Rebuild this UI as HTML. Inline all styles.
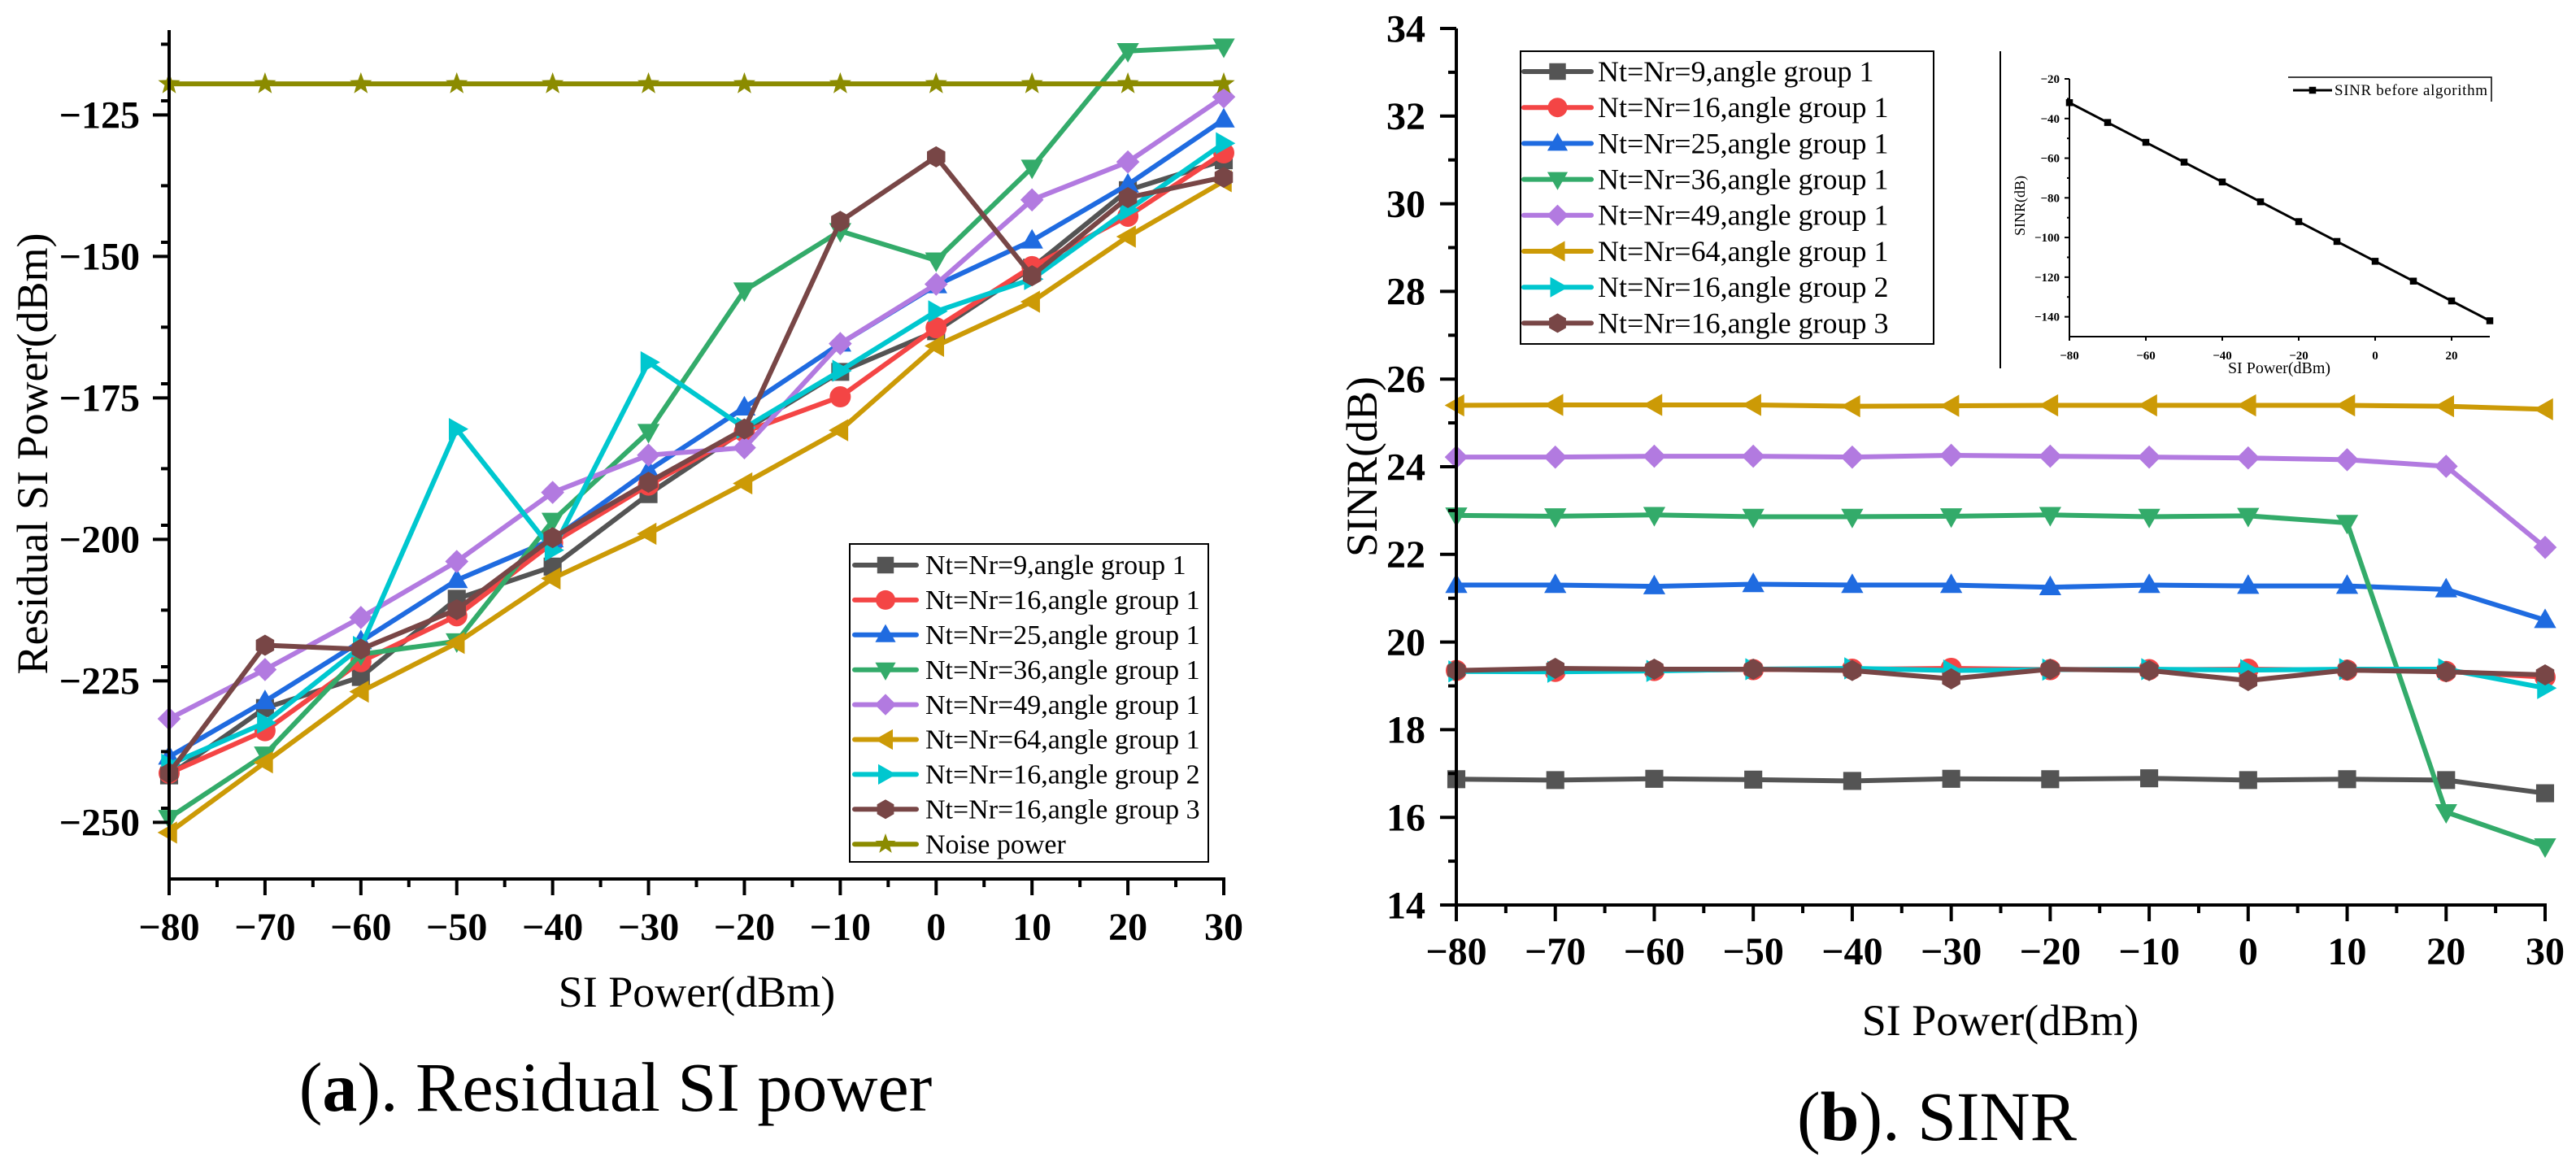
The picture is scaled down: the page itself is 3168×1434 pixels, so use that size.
<!DOCTYPE html>
<html><head><meta charset="utf-8">
<style>
html,body{margin:0;padding:0;background:#fff;}
svg{display:block;font-family:'Liberation Serif',serif;}
svg text, svg tspan{font-family:'Liberation Serif',serif;}
</style></head>
<body>
<svg id="fig" width="3168" height="1434" viewBox="0 0 3168 1434" xmlns="http://www.w3.org/2000/svg" style="font-family:'Liberation Serif',serif">
<rect x="0" y="0" width="3168" height="1434" fill="#fff"/>
<g id="chartA" style="font-family:'Liberation Serif',serif"></g>
<g id="chartB" style="font-family:'Liberation Serif',serif"></g>
<g id="inset" style="font-family:'Liberation Serif',serif"></g>
<text x="757" y="1366" font-size="86" text-anchor="middle">(<tspan font-weight="bold">a</tspan>). Residual SI power</text>
<text x="2382" y="1402" font-size="86" text-anchor="middle">(<tspan font-weight="bold">b</tspan>). SINR</text>
</svg>
<script>
const xCats = [-80,-70,-60,-50,-40,-30,-20,-10,0,10,20,30];
const seriesNames = ["Nt=Nr=9,angle group 1","Nt=Nr=16,angle group 1","Nt=Nr=25,angle group 1","Nt=Nr=36,angle group 1","Nt=Nr=49,angle group 1","Nt=Nr=64,angle group 1","Nt=Nr=16,angle group 2","Nt=Nr=16,angle group 3"];
const residual9  = [-241.7,-229.8,-224.3,-210.5,-204.8,-192,-180.7,-170.4,-163.2,-152,-138.3,-133];
const residual16 = [-241.3,-233.8,-221.6,-213.5,-200.6,-190.4,-181,-174.8,-162.6,-151.8,-142.9,-131.7];
const residual25 = [-238.4,-228.6,-218,-207.2,-200,-187.8,-176.7,-165.4,-155.1,-147.2,-137.3,-125.8];
const residual36 = [-249.2,-238,-220.3,-218,-196.7,-181,-156,-145.5,-150.7,-134.3,-113.7,-112.9];
const residual49 = [-231.7,-223,-213.8,-203.9,-191.7,-185.1,-183.8,-165.4,-154.9,-140,-133.3,-121.8];
const residual64 = [-251.8,-239.4,-226.9,-218.3,-206.9,-199,-190.1,-180.7,-165.8,-158,-146.5,-136.7];
const residual16g2 = [-239.8,-232.4,-219,-180.5,-201.9,-168.7,-180.3,-170.2,-159.7,-154,-141.8,-130];
const residual16g3 = [-241.3,-218.7,-219.4,-212.4,-199.7,-189.9,-180.5,-143.8,-132.4,-153.4,-139.6,-136];
const noisePower = [-119.5,-119.5,-119.5,-119.5,-119.5,-119.5,-119.5,-119.5,-119.5,-119.5,-119.5,-119.5];
const sinr9  = [16.87,16.85,16.88,16.86,16.83,16.88,16.87,16.89,16.85,16.87,16.85,16.55];
const sinr16 = [19.35,19.33,19.35,19.37,19.38,19.4,19.37,19.37,19.38,19.36,19.33,19.2];
const sinr25 = [21.3,21.3,21.27,21.32,21.3,21.3,21.25,21.3,21.28,21.28,21.2,20.5];
const sinr36 = [22.89,22.87,22.9,22.86,22.86,22.87,22.9,22.86,22.88,22.72,16.12,15.34];
const sinr49 = [24.22,24.22,24.24,24.24,24.22,24.26,24.24,24.22,24.2,24.16,24.01,22.16];
const sinr64 = [25.4,25.41,25.41,25.41,25.38,25.39,25.4,25.4,25.4,25.4,25.38,25.31];
const sinr16g2 = [19.33,19.32,19.34,19.38,19.4,19.35,19.37,19.38,19.36,19.38,19.38,18.95];
const sinr16g3 = [19.35,19.4,19.38,19.38,19.35,19.16,19.38,19.35,19.12,19.36,19.32,19.25];
const sinrBefore = [-32,-42,-52,-62,-72,-82,-92,-102,-112,-122,-132,-142];
const yTicksA = [-250,-225,-200,-175,-150,-125];
const yTicksB = [14,16,18,20,22,24,26,28,30,32,34];
const yTicksInset = [-140,-120,-100,-80,-60,-40,-20];
const xTicksInset = [-80,-60,-40,-20,0,20];

const NS="http://www.w3.org/2000/svg";
const colors=["#545454","#f44545","#1f6be0","#33ab6a","#b27ae0","#cc9a06","#00c7cf","#784646"];
const shapes=["square","circle","up","down","diamond","left","right","hex"];
function mk(tag,attrs,parent){const e=document.createElementNS(NS,tag);for(const k in attrs)e.setAttribute(k,attrs[k]);if(tag==="text"){e.style.fontFamily="'Liberation Serif', serif";}parent.appendChild(e);return e;}
function fmt(v){return v<0?"\u2212"+Math.abs(v):String(v);}
function markerD(s,cx,cy,r){
  if(s==="square")return `M${cx-r*0.85},${cy-r*0.85}h${1.7*r}v${1.7*r}h${-1.7*r}Z`;
  if(s==="up")return `M${cx},${cy-r*1.1}L${cx+r*1.05},${cy+r*0.75}L${cx-r*1.05},${cy+r*0.75}Z`;
  if(s==="down")return `M${cx},${cy+r*1.1}L${cx+r*1.05},${cy-r*0.75}L${cx-r*1.05},${cy-r*0.75}Z`;
  if(s==="left")return `M${cx-r*1.1},${cy}L${cx+r*0.75},${cy-r*1.05}L${cx+r*0.75},${cy+r*1.05}Z`;
  if(s==="right")return `M${cx+r*1.1},${cy}L${cx-r*0.75},${cy-r*1.05}L${cx-r*0.75},${cy+r*1.05}Z`;
  if(s==="diamond")return `M${cx},${cy-r*1.1}L${cx+r*1.1},${cy}L${cx},${cy+r*1.1}L${cx-r*1.1},${cy}Z`;
  if(s==="hex"){let d="";for(let i=0;i<6;i++){const a=Math.PI/6+i*Math.PI/3;d+=(i?"L":"M")+(cx+r*Math.cos(a))+","+(cy+r*Math.sin(a));}return d+"Z";}
  if(s==="star"){let d="";for(let i=0;i<10;i++){const a=-Math.PI/2+i*Math.PI/5;const rr=i%2?r*0.45:r*1.1;d+=(i?"L":"M")+(cx+rr*Math.cos(a))+","+(cy+rr*Math.sin(a));}return d+"Z";}
  return "";
}
function marker(s,cx,cy,r,col,parent){
  let e;
  if(s==="circle"){e=mk("circle",{cx:cx,cy:cy,r:r,fill:col},parent);}
  else e=mk("path",{d:markerD(s,cx,cy,r),fill:col},parent);
  
  
  return e;
}

function drawChart(g,opt){
  const sx=v=>opt.x0+(v-opt.xmin)/(opt.xmax-opt.xmin)*(opt.x1-opt.x0);
  const sy=v=>opt.yB+(v-opt.ymin)/(opt.ymax-opt.ymin)*(opt.yT-opt.yB);
  opt.series.forEach((s,i)=>{
    const sg=mk("g",{},g);
    
    
    const pts=s.data.map((v,j)=>sx(xCats[j])+","+sy(v)).join(" ");
    const pl=mk("polyline",{points:pts,fill:"none",stroke:s.color,"stroke-width":opt.lw,"stroke-linejoin":"round"},sg);
    
    
    s.data.forEach((v,j)=>marker(s.shape,sx(xCats[j]),sy(v),opt.mr,s.color,sg));
  });
  const ax=mk("g",{stroke:"#000","stroke-width":4},g);
  
  
  mk("line",{x1:opt.x0,y1:opt.yT,x2:opt.x0,y2:opt.yB+2},ax);
  mk("line",{x1:opt.x0-2,y1:opt.yB,x2:opt.x1+2,y2:opt.yB},ax);
  for(let v=opt.xmin;v<=opt.xmax;v+=5){
    const major=(v%10===0);
    mk("line",{x1:sx(v),y1:opt.yB,x2:sx(v),y2:opt.yB+(major?opt.tl:opt.tl/2)},ax);
    if(major){
      const t=mk("text",{x:sx(v),y:opt.yB+opt.xlab,"font-size":opt.fs,"font-weight":"bold","text-anchor":"middle",stroke:"none",fill:"#000"},g);
      t.textContent=fmt(v);
      
      
    }
  }
  opt.yticks.forEach((v,k)=>{
    mk("line",{x1:opt.x0,y1:sy(v),x2:opt.x0-opt.tl,y2:sy(v)},ax);
    const t=mk("text",{x:opt.x0-opt.ylab,y:sy(v)+opt.fs*0.34,"font-size":opt.fs,"font-weight":"bold","text-anchor":"end",fill:"#000"},g);
    t.textContent=fmt(v);
    
    
  });
  for(let v=opt.ymin+opt.minor;v<opt.ymax;v+=opt.minor*2){
    if(sy(v)>=opt.yT-1) mk("line",{x1:opt.x0,y1:sy(v),x2:opt.x0-opt.tl/2,y2:sy(v)},ax);
  }
  if(opt.extraMinor) opt.extraMinor.forEach(v=>mk("line",{x1:opt.x0,y1:sy(v),x2:opt.x0-opt.tl/2,y2:sy(v)},ax));
}

function legend(g,o){
  const lg=mk("g",{},g);
  
  
  mk("rect",{x:o.x,y:o.y,width:o.w,height:o.h,fill:"#fff",stroke:"#000","stroke-width":2},lg);
  o.items.forEach((it,i)=>{
    const cy=o.y0+i*o.dy;
    const eg=mk("g",{},lg);
    
    
    mk("line",{x1:o.lx0,y1:cy,x2:o.lx1,y2:cy,stroke:it.color,"stroke-width":6,"stroke-linecap":"round"},eg);
    marker(it.shape,(o.lx0+o.lx1)/2,cy,12,it.color,eg);
    const t=mk("text",{x:o.tx,y:cy+o.fs*0.33,"font-size":o.fs,fill:"#000"},eg);
    t.textContent=it.name;
  });
}

const gA=document.getElementById("chartA");
const sA=[residual9,residual16,residual25,residual36,residual49,residual64,residual16g2,residual16g3].map((d,i)=>({key:"a"+i,data:d,color:colors[i],shape:shapes[i]}));
sA.push({key:"noise",data:noisePower,color:"#8b8b00",shape:"star"});
drawChart(gA,{x0:208,x1:1505,yT:37,yB:1081,xmin:-80,xmax:30,ymin:-260,ymax:-110,series:sA,lw:6,mr:13,fs:48,tl:20,xlab:75,ylab:36,yticks:yTicksA,minor:12.5,extraMinor:[-237.5,-212.5,-187.5,-162.5,-137.5,-112.5]});
(function(){const t=mk("text",{x:0,y:0,"font-size":54,"text-anchor":"middle",transform:"translate(58,558) rotate(-90)"},gA);t.textContent="Residual SI Power(dBm)";
const x=mk("text",{x:857,y:1238,"font-size":54,"text-anchor":"middle"},gA);x.textContent="SI Power(dBm)";})();
legend(gA,{x:1045,y:669,w:441,h:391,y0:695,dy:42.9,lx0:1051,lx1:1127,tx:1138,fs:34,items:sA.map((s,i)=>({name:i<8?seriesNames[i]:"Noise power",color:s.color,shape:s.shape}))});

const gB=document.getElementById("chartB");
const sB=[sinr9,sinr16,sinr25,sinr36,sinr49,sinr64,sinr16g2,sinr16g3].map((d,i)=>({key:"b"+i,data:d,color:colors[i],shape:shapes[i]}));
drawChart(gB,{x0:1791,x1:3130,yT:35,yB:1113,xmin:-80,xmax:30,ymin:14,ymax:34,series:sB,lw:6,mr:13,fs:48,tl:20,xlab:73,ylab:38,yticks:yTicksB,minor:1});
(function(){const t=mk("text",{x:0,y:0,"font-size":54,"text-anchor":"middle",transform:"translate(1693,574) rotate(-90)"},gB);t.textContent="SINR(dB)";
const x=mk("text",{x:2460,y:1273,"font-size":54,"text-anchor":"middle"},gB);x.textContent="SI Power(dBm)";})();
legend(gB,{x:1870,y:63,w:508,h:360,y0:88,dy:44.2,lx0:1874,lx1:1957,tx:1965,fs:36,items:sB.map((s,i)=>({name:seriesNames[i],color:s.color,shape:s.shape}))});

const gI=document.getElementById("inset");
(function(){
  const x0=2545,x1=3062,yT=97,yB=414,ymin=-150,ymax=-20;
  const sx=v=>x0+(v+80)/110*(x1-x0);
  const sy=v=>yB+(v-ymin)/(ymax-ymin)*(yT-yB);
  const vl=mk("line",{x1:2460,y1:63,x2:2460,y2:453,stroke:"#000","stroke-width":2},gI);
  
  
  const pl=mk("polyline",{points:sinrBefore.map((v,j)=>sx(xCats[j])+","+sy(v)).join(" "),fill:"none",stroke:"#000","stroke-width":3},gI);
  
  
  sinrBefore.forEach((v,j)=>marker("square",sx(xCats[j]),sy(v),5,"#000",gI));
  const ax=mk("g",{stroke:"#000","stroke-width":2},gI);
  mk("line",{x1:x0,y1:yT,x2:x0,y2:yB},ax);
  mk("line",{x1:x0,y1:yB,x2:x1,y2:yB},ax);
  yTicksInset.forEach(v=>{mk("line",{x1:x0,y1:sy(v),x2:x0-6,y2:sy(v)},ax);
    const t=mk("text",{x:x0-12,y:sy(v)+5,"font-size":15,"font-weight":"bold","text-anchor":"end"},gI);t.textContent=fmt(v);
    });
  for(let v=-130;v<=-30;v+=20) mk("line",{x1:x0,y1:sy(v),x2:x0-3,y2:sy(v)},ax);
  xTicksInset.forEach(v=>{mk("line",{x1:sx(v),y1:yB,x2:sx(v),y2:yB+5},ax);
    const t=mk("text",{x:sx(v),y:yB+28,"font-size":15,"font-weight":"bold","text-anchor":"middle"},gI);t.textContent=fmt(v);
    });
  const yt=mk("text",{x:0,y:0,"font-size":18,"text-anchor":"middle",transform:"translate(2490,253) rotate(-90)"},gI);yt.textContent="SINR(dB)";
  
  const xt=mk("text",{x:2803,y:459,"font-size":20,"text-anchor":"middle"},gI);xt.textContent="SI Power(dBm)";
  
  const lg=mk("g",{},gI);
  
  
  mk("path",{d:"M2814,95H3064V125",fill:"none",stroke:"#000","stroke-width":1.5},lg);
  mk("line",{x1:2820,y1:111,x2:2868,y2:111,stroke:"#000","stroke-width":3},lg);
  marker("square",2844,111,5,"#000",lg);
  const lt=mk("text",{x:2871,y:117,"font-size":19,textLength:188},lg);lt.textContent="SINR before algorithm";
})();
</script>
</body></html>
